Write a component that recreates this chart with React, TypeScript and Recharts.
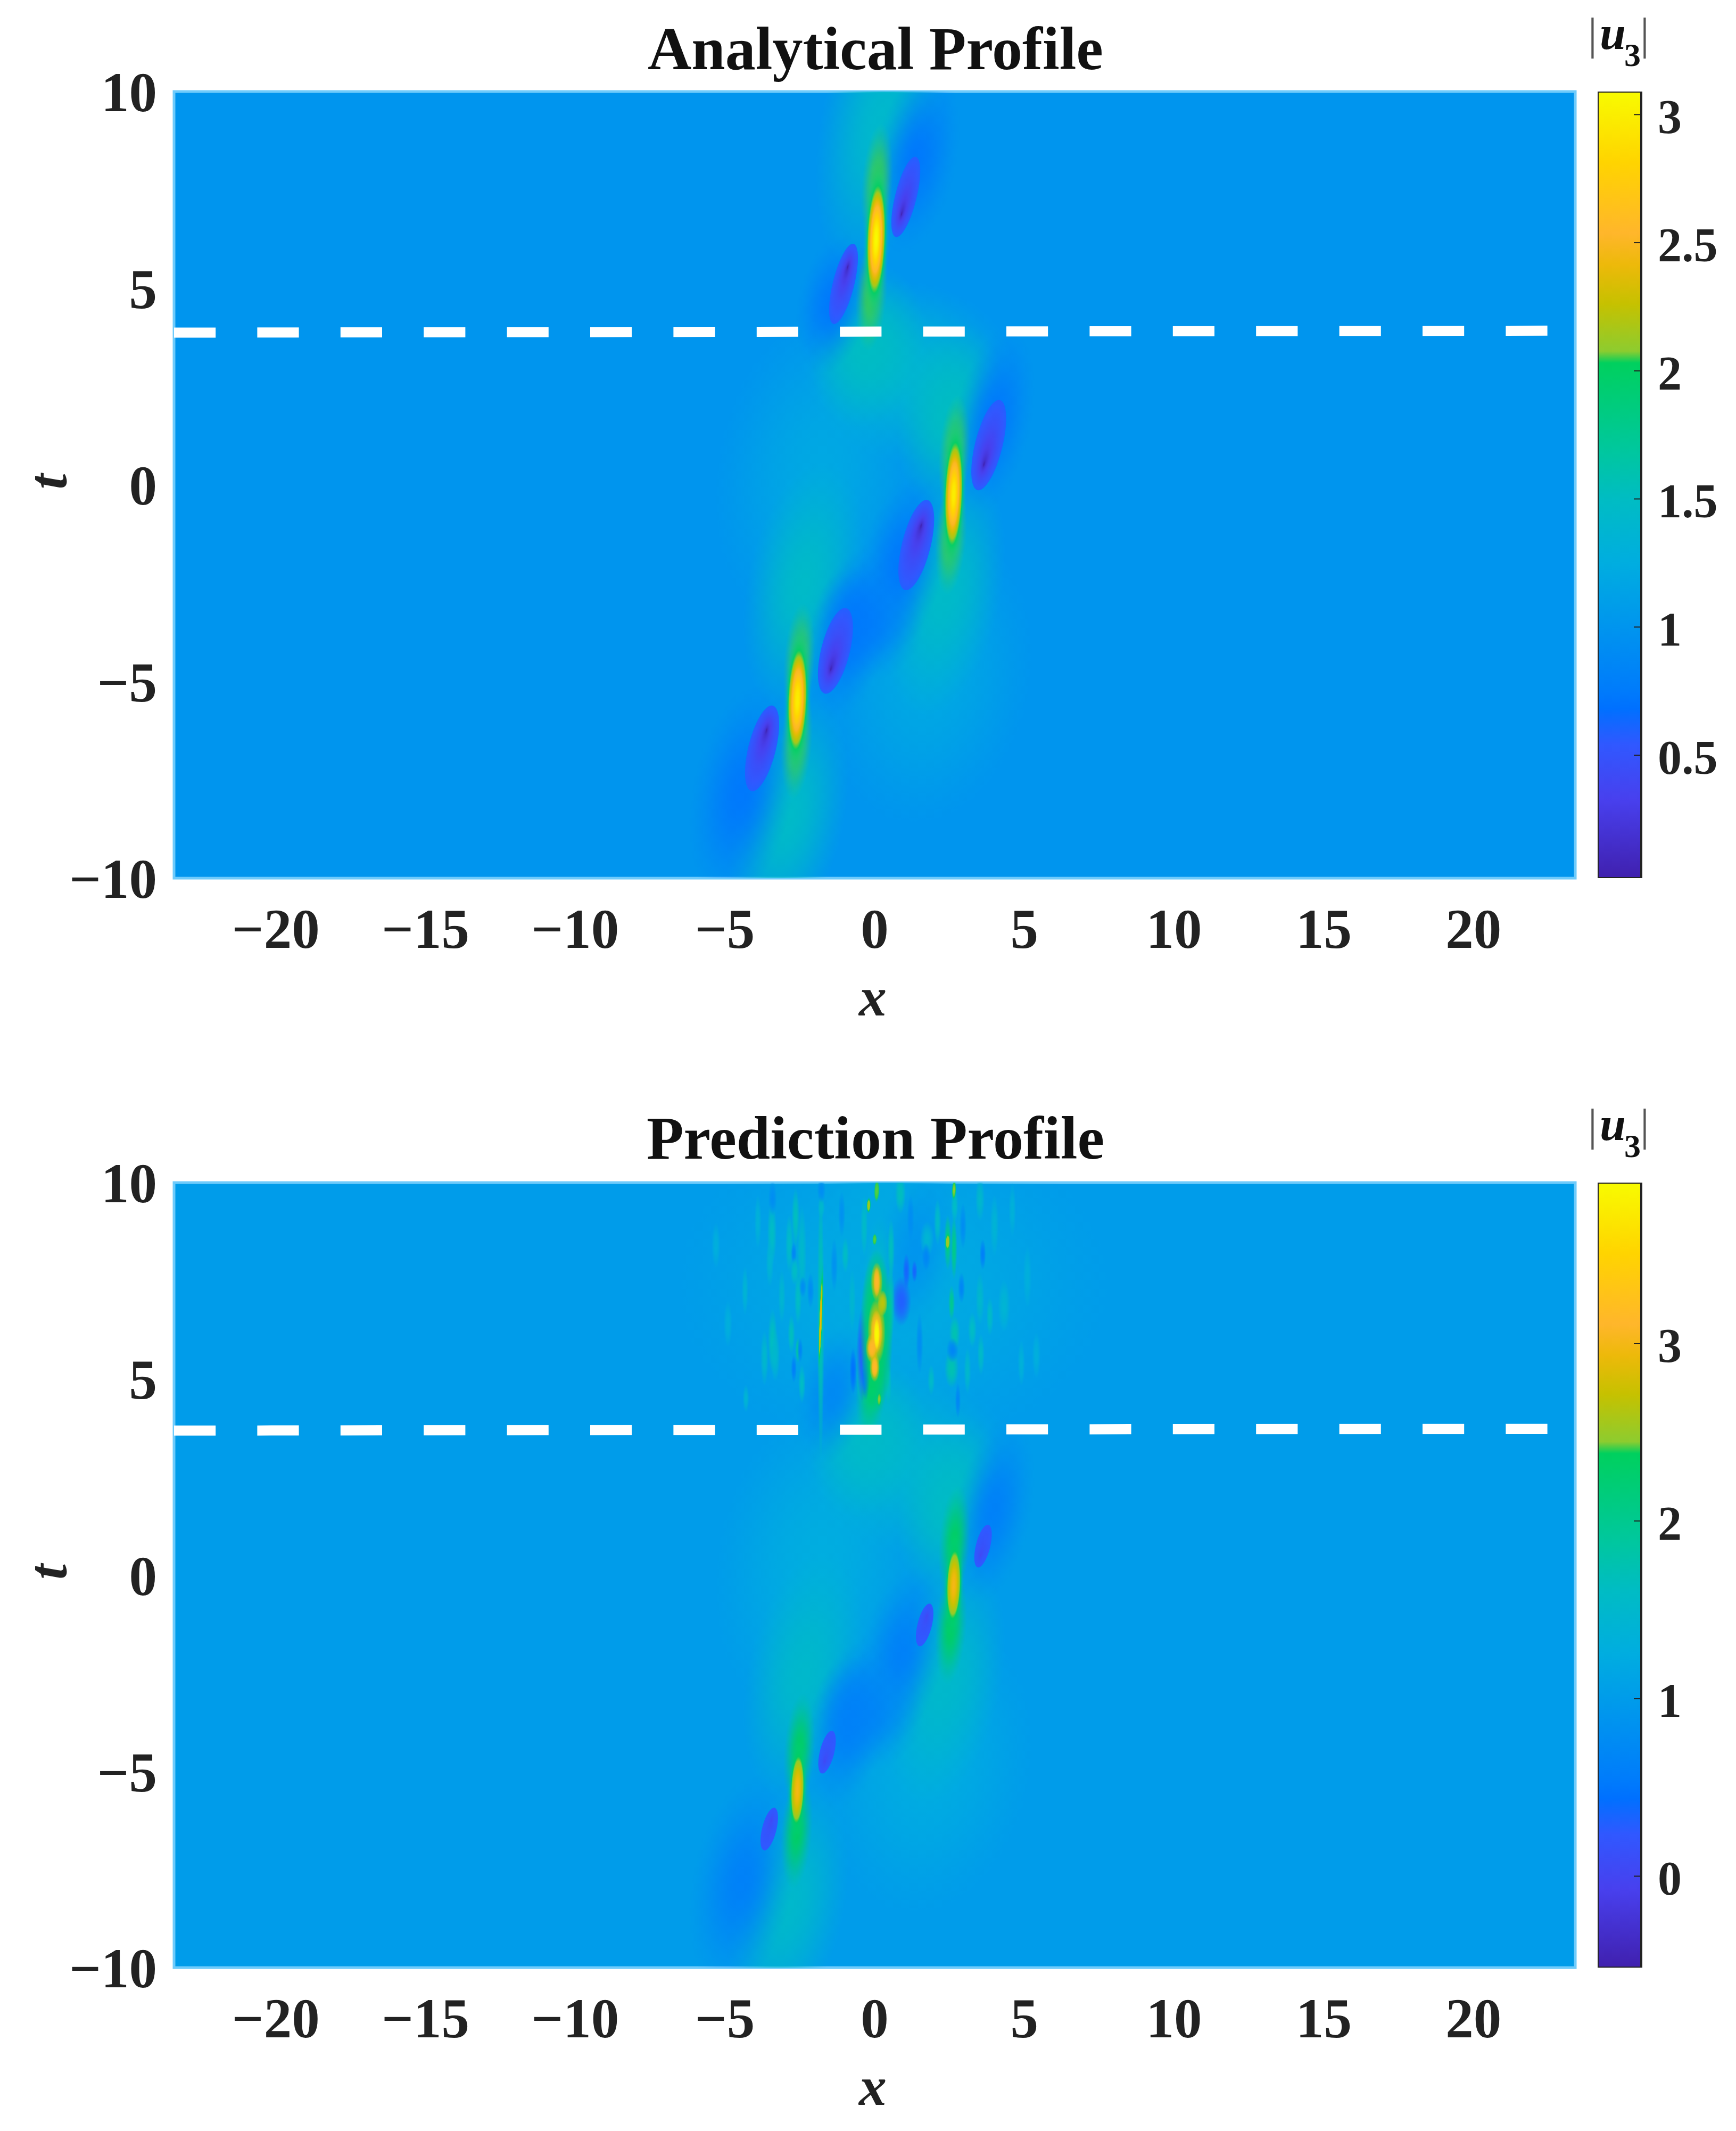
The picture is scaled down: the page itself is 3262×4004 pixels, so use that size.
import { Bar, BarChart, CartesianGrid, ReferenceArea, Scatter, ScatterChart, XAxis, YAxis } from "recharts";

const xTicks = [-20, -15, -10, -5, 0, 5, 10, 15, 20];
const tTicks = [-10, -5, 0, 5, 10];
const barTicks1 = [0.5, 1, 1.5, 2, 2.5, 3];
const barTicks2 = [0, 1, 2, 3];
const barDomain1 = [0.02, 3.09];
const barDomain2 = [-0.515, 3.905];
const XMAX = 23.4;

// colour scale (0 = top of bar)
const cmapPos = [0, 0.09, 0.18, 0.22, 0.27, 0.33, 0.345, 0.45, 0.52, 0.6, 0.68, 0.76, 0.785, 0.83, 0.9, 1];
const cmapColor = ["#f8fb00", "#ffd400", "#ffb62b", "#edb90a", "#c6c100", "#8dcc2f", "#00d05e", "#00c89a", "#00bcc4", "#00ade0", "#0095ee", "#007cfb", "#0070ff", "#3058ff", "#4840ee", "#4020ae"];

// dashed slice line
const dashX = [-23.4, 22.47];
const dashT1 = [3.87, 3.92];
const dashT2 = [3.68, 3.73];

// broad ridges and troughs of the field, shared geometry for both panels
const ridgeX = [-1.84, 1.8, -2.9, -2.37, 1.18, 0.2, -0.24, 2.51, 2.34];
const ridgeT = [0.42, -4.86, -8.38, -2.56, 2.85, 9.2, 3.53, 1.77, -2.69];
const ridgeSpreadX = [3.4, 3.4, 1.9, 1.9, 3.6, 2.0, 1.9, 1.7, 1.9];
const ridgeSpreadT = [4.2, 3.8, 3.2, 3.2, 2.3, 3.8, 2.1, 2.4, 3.2];
const ridgeValue1 = [1.2, 1.2, 1.46, 1.46, 1.36, 1.42, 1.5, 1.5, 1.46];
const ridgeValue2 = [1.25, 1.24, 1.52, 1.52, 1.42, 1.18, 1.56, 1.58, 1.52];

const troughX = [1.36, -1.39, 3.95, 0.91, -0.24, -0.86, -4.41];
const troughT = [8.27, 4.6, 1.64, -2.02, -3.5, -3.78, -7.83];
const troughSpreadX = [1.4, 1.2, 1.3, 1.4, 1.9, 1.3, 1.7];
const troughSpreadT = [2.4, 1.8, 2.4, 2.3, 1.5, 2.2, 2.8];
const troughValue1 = [0.74, 0.74, 0.74, 0.74, 0.8, 0.74, 0.74];
const troughValue2 = [0.9, 0.75, 0.62, 0.62, 0.7, 0.62, 0.62];

const tailX = [0.08, -0.1, 2.66, 2.55, -2.52, -2.6];
const tailT = [7.6, 4.9, 0.8, -1.3, -4.5, -6.5];
const tailSpreadX = [0.52, 0.52, 0.52, 0.52, 0.52, 0.52];
const tailSpreadT = [1.6, 1.5, 1.5, 1.5, 1.5, 1.5];
const tailValue1 = [2.05, 2.05, 2.05, 2.05, 2.05, 2.05];
const tailValue2 = [1.5, 2.3, 2.35, 2.35, 2.35, 2.35];

// analytical panel
const peakX1 = [0.05, 2.64, -2.58];
const peakT1 = [6.24, -0.23, -5.47];
const peakV1 = [3.09, 3.0, 3.0];
const peakSpreadX1 = [0.28, 0.27, 0.29];
const peakSpreadT1 = [1.29, 1.23, 1.19];
const dipX1 = [1.04, -1.04, 3.81, 1.39, -1.31, -3.76];
const dipT1 = [7.32, 5.11, 1.01, -1.53, -4.22, -6.7];
const dipV1 = [0.03, 0.03, 0.03, 0.03, 0.03, 0.03];
const dipSpreadX1 = [0.36, 0.36, 0.46, 0.48, 0.48, 0.46];
const dipSpreadT1 = [1.05, 1.05, 1.18, 1.18, 1.12, 1.12];
const dipCore1 = [-1, 1, -1, 1, -1, 1];

// prediction panel: two clean breathers, thin spikes above the line
const peakX2 = [2.64, -2.58, -1.8, 2.44, 0.07, -0.2, 0.0, 0.15, 2.65];
const peakT2 = [-0.25, -5.47, 6.55, 8.49, 9.79, 9.42, 8.55, 4.48, 9.81];
const peakV2 = [3.0, 3.0, 2.95, 2.55, 2.42, 2.55, 2.42, 2.45, 2.45];
const peakSpreadX2 = [0.21, 0.2, 0.04, 0.06, 0.06, 0.05, 0.05, 0.05, 0.05];
const peakSpreadT2 = [0.81, 0.8, 0.93, 0.16, 0.19, 0.136, 0.1, 0.124, 0.17];
const dipX2 = [3.62, 1.67, -1.59, -3.52];
const dipT2 = [0.74, -1.27, -4.51, -6.47];
const dipV2 = [0.02, 0.02, 0.02, 0.02];
const dipSpreadX2 = [0.24, 0.24, 0.24, 0.24];
const dipSpreadT2 = [0.56, 0.56, 0.56, 0.56];
const dipCore2 = [-1, 1, -1, 1];

// the broken-up peak at x = 0, stacked from low level to high level
const clusterX = [0.06, 0.07, 0.26, 0.06, -0.09, 0.0, 0.07, 0.06, -0.09, 0.0, 0.07];
const clusterT = [6.2, 7.47, 6.93, 6.2, 5.78, 5.3, 7.47, 6.2, 5.78, 5.3, 6.14];
const clusterV = [2.3, 2.7, 2.65, 2.75, 2.9, 2.85, 3.1, 3.2, 3.1, 3.15, 3.9];
const clusterSpreadX = [0.55, 0.2, 0.17, 0.3, 0.21, 0.17, 0.11, 0.2, 0.14, 0.11, 0.1];
const clusterSpreadT = [2.1, 0.5, 0.33, 0.85, 0.38, 0.38, 0.38, 0.55, 0.25, 0.27, 0.4];

// streaks of the prediction error, all above the dashed line
const streakX = [-1.8, -3.43, -2.64, -2.85, -2.43, -2.7, -2.7, -2.56, -3.41, -2.78, -2.56, -2.49, -2.43, -4.33, -4.3, -3.68, -3.32, -3.5, -1.78, -3.41, -1.78, -0.98, -2.14, -2.4, -2.67, 2.67, 2.44, 2.65, 2.57, 2.67, 2.57, 0.86, 2.6, 3.61, 3.52, 1.75, 3.85, 4.32, 3.26, 3.52, 3.55, 1.89, 1.06, 1.33, 0.89, 1.72, 2.9, 2.78, 0.53, -0.5, -0.35, 0.45, 0.55, -0.42, -0.72, -0.3, -4.9, 5.1, 5.4, -5.3, -1.1, -1.35, -0.75, 1.2, 1.5, 2.1, 2.95, 3.1, 4.0, 4.6, 4.9, -3.9, -3.1];
const streakT = [6.48, 8.72, 9.12, 8.44, 8.2, 8.2, 5.26, 7.04, 5.98, 6.14, 5.73, 5.73, 4.87, 7.25, 4.5, 5.53, 5.6, 7.97, 9.37, 9.6, 9.8, 8.15, 7.25, 7.34, 7.74, 9.42, 8.47, 8.33, 6.93, 6.16, 5.26, 9.72, 5.73, 8.17, 9.58, 8.56, 6.59, 6.86, 6.25, 7.04, 5.62, 4.97, 7.74, 7.74, 6.98, 8.11, 7.32, 4.45, 6.9, 5.2, 8.9, 4.9, 8.3, 5.6, 5.2, 5.15, 6.4, 7.6, 5.6, 8.4, 9.2, 7.9, 7.0, 9.1, 5.9, 9.0, 8.9, 5.2, 8.9, 9.3, 5.4, 9.0, 7.1];
const streakV = [1.75, 1.6, 1.65, 1.55, 1.5, 0.7, 0.6, 1.6, 1.65, 1.65, 1.85, 0.7, 1.6, 1.42, 1.42, 1.5, 1.5, 1.42, 1.5, 0.8, 0.8, 1.6, 0.8, 0.8, 1.6, 1.6, 2.05, 2.05, 2.0, 1.75, 1.75, 1.65, 0.7, 0.6, 1.5, 1.42, 1.55, 1.42, 1.6, 1.5, 1.55, 1.55, 0.35, 0.35, 0.3, 0.7, 0.7, 0.7, 1.75, 1.6, 1.55, 1.65, 1.65, 0.3, 0.45, 0.45, 1.3, 1.3, 1.3, 1.3, 0.85, 0.85, 1.45, 0.8, 0.8, 1.55, 0.8, 1.5, 1.4, 1.35, 1.35, 1.35, 1.45];
const streakLen = [1.81, 0.43, 0.38, 0.38, 0.63, 0.14, 0.18, 0.34, 0.41, 0.25, 0.16, 0.16, 0.25, 0.32, 0.18, 0.36, 0.34, 0.32, 0.14, 0.23, 0.16, 0.23, 0.23, 0.14, 0.18, 0.23, 0.36, 0.41, 0.23, 0.23, 0.25, 0.26, 0.16, 0.2, 0.29, 0.23, 0.25, 0.34, 0.23, 0.34, 0.27, 0.2, 0.23, 0.14, 0.32, 0.18, 0.2, 0.23, 0.5, 0.4, 0.4, 0.3, 0.4, 0.6, 0.3, 0.35, 0.3, 0.4, 0.3, 0.3, 0.3, 0.35, 0.4, 0.3, 0.4, 0.3, 0.3, 0.3, 0.4, 0.35, 0.3, 0.35, 0.35];
const streakWide = [0.1, 0.13, 0.11, 0.11, 0.13, 0.08, 0.08, 0.1, 0.13, 0.1, 0.08, 0.08, 0.1, 0.09, 0.09, 0.11, 0.13, 0.11, 0.1, 0.12, 0.12, 0.1, 0.1, 0.1, 0.12, 0.1, 0.1, 0.09, 0.09, 0.15, 0.2, 0.15, 0.17, 0.09, 0.13, 0.2, 0.1, 0.17, 0.12, 0.12, 0.1, 0.1, 0.1, 0.08, 0.28, 0.12, 0.1, 0.08, 0.12, 0.1, 0.1, 0.1, 0.1, 0.16, 0.1, 0.12, 0.12, 0.12, 0.12, 0.12, 0.1, 0.1, 0.1, 0.1, 0.1, 0.1, 0.1, 0.1, 0.12, 0.1, 0.1, 0.1, 0.1];

const SERIF = "'Liberation Serif', serif";
const INK = "#222";
const PEAK_TILT = 2;
const DIP_TILT = 14;
const BAND_TILT = 11;
const PLOT_LEFT = 327;
const PLOT_RIGHT = 2960;
const PLOT_TOP = 172;
const CHART_W = 3262;
const CHART_H = 1960;
const AXIS_ROOM = 220;

function hexToRgb(hex: string) {
  return [1, 3, 5].map((i) => parseInt(hex.slice(i, i + 2), 16));
}

function colorAt(pos: number) {
  const p = Math.min(1, Math.max(0, pos));
  let i = 0;
  while (i < cmapPos.length - 2 && p > cmapPos[i + 1]) i++;
  const f = (p - cmapPos[i]) / (cmapPos[i + 1] - cmapPos[i]);
  const a = hexToRgb(cmapColor[i]);
  const b = hexToRgb(cmapColor[i + 1]);
  return `rgb(${a.map((c, k) => Math.round(c + (b[k] - c) * f)).join(",")})`;
}

type Blob = { x: number; t: number; v: number; sx: number; st: number; core?: number };

function blobs(xs: number[], ts: number[], vs: number[], sxs: number[], sts: number[], cores?: number[]): Blob[] {
  return xs.map((x, i) => ({ x, t: ts[i], v: vs[i], sx: sxs[i], st: sts[i], core: cores ? cores[i] : 0 }));
}

const steps = (n: number) => Array.from({ length: n + 1 }, (_, i) => i / n);

function Panel({ top, plotBottom, title, titleY, dashT, domain, ridgeValue, troughValue, tailValue, peaks, dips, edgeValue, barTicks, withStreaks, id }: any) {
  const plotW = PLOT_RIGHT - PLOT_LEFT;
  const plotH = plotBottom - PLOT_TOP;
  const pxX = plotW / (2 * XMAX);
  const pxT = plotH / 20;
  const toPos = (v: number) => (domain[1] - v) / (domain[1] - domain[0]);
  const clip = `url(#clip-${id})`;

  const softShape = (prefix: string, sharp: number, tilt: number) => (props: any) => {
    const { cx, cy, payload, index } = props;
    const gid = `${prefix}-${id}-${index}`;
    const color = colorAt(toPos(payload.v));
    return (
      <g clipPath={clip}>
        <radialGradient id={gid}>
          {steps(10).map((r) => (
            <stop key={r} offset={r} stopColor={color} stopOpacity={Math.exp(-sharp * r * r) * (1 - r * r * r * r)} />
          ))}
        </radialGradient>
        <ellipse cx={cx} cy={cy} rx={payload.sx * pxX} ry={payload.st * pxT} fill={`url(#${gid})`} transform={`rotate(${tilt} ${cx} ${cy})`} />
      </g>
    );
  };

  const peakShape = (props: any) => {
    const { cx, cy, payload, index } = props;
    const gid = `peak-${id}-${index}`;
    const R = 1.7;
    const basePos = 0.55;
    const peakPos = toPos(payload.v);
    const k = Math.log((basePos - peakPos) / (basePos - 0.34));
    return (
      <g clipPath={clip}>
        <radialGradient id={gid}>
          {steps(24).map((o) => {
            const r = o * R;
            const pos = basePos + (peakPos - basePos) * Math.exp(-k * r * r);
            const alpha = r < 1.02 ? 1 : Math.max(0, 1 - (r - 1.02) / (R - 1.02)) ** 2;
            return <stop key={o} offset={o} stopColor={colorAt(pos)} stopOpacity={alpha} />;
          })}
        </radialGradient>
        <ellipse cx={cx} cy={cy} rx={payload.sx * pxX * R} ry={payload.st * pxT * R} fill={`url(#${gid})`} transform={`rotate(${PEAK_TILT} ${cx} ${cy})`} />
      </g>
    );
  };

  const dipShape = (props: any) => {
    const { cx, cy, payload, index } = props;
    const gid = `dip-${id}-${index}`;
    return (
      <g clipPath={clip}>
        <radialGradient id={gid} cx={0.5} cy={0.5} r={0.5} fx={0.5} fy={0.5 - 0.22 * payload.core}>
          {steps(12).map((o) => (
            <stop key={o} offset={o} stopColor={colorAt(toPos(payload.v + (edgeValue - payload.v) * o ** 0.5))} />
          ))}
        </radialGradient>
        <ellipse cx={cx} cy={cy} rx={payload.sx * pxX} ry={payload.st * pxT} fill={`url(#${gid})`} transform={`rotate(${DIP_TILT} ${cx} ${cy})`} />
      </g>
    );
  };

  const ridges = blobs(ridgeX, ridgeT, ridgeValue, ridgeSpreadX, ridgeSpreadT);
  const troughs = blobs(troughX, troughT, troughValue, troughSpreadX, troughSpreadT);
  const tails = blobs(tailX, tailT, tailValue, tailSpreadX, tailSpreadT);
  const streaks = withStreaks ? blobs(streakX, streakT, streakV, streakWide.map((w) => w * 1.2), streakLen.map((l) => l * 2)) : [];
  const cluster = withStreaks ? blobs(clusterX, clusterT, clusterV, clusterSpreadX, clusterSpreadT) : [];
  const noiseEnvelope = withStreaks ? [{ x: 0.6, t: 7.4, v: 1.22, sx: 7.2, st: 4.2 }] : [];
  const dashPoints = dashX.map((x, i) => ({ x, t: dashT[i] }));
  const minus = (v: number) => String(v).replace("-", "\u2212");
  const tickStyle = { fontFamily: SERIF, fontWeight: 700, fontSize: 105, fill: INK };

  const barPlot = { w: 82, left: 3002 };

  return (
    <div style={{ position: "absolute", left: 0, top, width: CHART_W, height: CHART_H }}>
      <div style={{ position: "absolute", left: 0, top: 0 }}>
        <ScatterChart
          width={CHART_W}
          height={CHART_H}
          margin={{ left: PLOT_LEFT - AXIS_ROOM, right: CHART_W - PLOT_RIGHT, top: PLOT_TOP, bottom: CHART_H - plotBottom - AXIS_ROOM }}
        >
          <defs>
            <clipPath id={`clip-${id}`}>
              <rect x={PLOT_LEFT} y={PLOT_TOP} width={plotW} height={plotH} />
            </clipPath>
          </defs>
          <CartesianGrid horizontal={false} vertical={false} fill={colorAt(toPos(1.0))} stroke="none" />
          <XAxis
            dataKey="x"
            type="number"
            domain={[-XMAX, XMAX]}
            ticks={xTicks}
            height={AXIS_ROOM}
            axisLine={false}
            tickLine={false}
            tickSize={0}
            tickMargin={56}
            interval={0}
            tick={tickStyle}
            tickFormatter={minus}
          />
          <YAxis
            dataKey="t"
            type="number"
            domain={[-10, 10]}
            ticks={tTicks}
            width={AXIS_ROOM}
            axisLine={false}
            tickLine={false}
            tickSize={0}
            tickMargin={32}
            interval={0}
            tick={tickStyle}
            tickFormatter={minus}
          />
          <ReferenceArea x1={-XMAX} x2={XMAX} y1={-10} y2={10} fill="none" stroke="#6fcbfb" strokeWidth={5} />
          {withStreaks && <Scatter data={noiseEnvelope} shape={softShape("noise", 1.6, 0)} isAnimationActive={false} />}
          <Scatter data={ridges} shape={softShape("ridge", 1.5, BAND_TILT)} isAnimationActive={false} />
          <Scatter data={troughs} shape={softShape("trough", 2.0, BAND_TILT)} isAnimationActive={false} />
          <Scatter data={tails} shape={softShape("tail", 1.8, 4)} isAnimationActive={false} />
          {withStreaks && <Scatter data={streaks} shape={softShape("streak", 1.0, 0)} isAnimationActive={false} />}
          {withStreaks && <Scatter data={cluster} shape={softShape("cluster", 0.3, 0)} isAnimationActive={false} />}
          <Scatter data={peaks} shape={peakShape} isAnimationActive={false} />
          <Scatter data={dips} shape={dipShape} isAnimationActive={false} />
          <Scatter
            data={dashPoints}
            shape={() => <g />}
            line={{ stroke: "#fff", strokeWidth: 19, strokeDasharray: "78.2 78.2" }}
            isAnimationActive={false}
          />
          <text x={1645} y={titleY} textAnchor="middle" fontFamily={SERIF} fontWeight={700} fontSize={114} fill="#111">
            {title}
          </text>
          <text x={1640} y={plotBottom + 258} textAnchor="middle" fontFamily={SERIF} fontWeight={700} fontStyle="italic" fontSize={104} fill={INK}>
            x
          </text>
          <text
            x={0}
            y={0}
            transform={`translate(124 ${PLOT_TOP + plotH / 2 - 6}) rotate(-90)`}
            textAnchor="middle"
            fontFamily={SERIF}
            fontWeight={700}
            fontStyle="italic"
            fontSize={104}
            fill={INK}
          >
            t
          </text>
          <text x={2984} y={92} fontFamily={SERIF} fontSize={84} fill="#555">|</text>
          <text x={3006} y={92} fontFamily={SERIF} fontWeight={700} fontStyle="italic" fontSize={88} fill="#111">u</text>
          <text x={3052} y={124} fontFamily={SERIF} fontWeight={700} fontSize={62} fill="#111">3</text>
          <text x={3082} y={92} fontFamily={SERIF} fontSize={84} fill="#555">|</text>
        </ScatterChart>
      </div>
      <div style={{ position: "absolute", left: barPlot.left, top: PLOT_TOP }}>
        <BarChart
          width={CHART_W - barPlot.left}
          height={plotH}
          data={[{ name: "bar", range: domain }]}
          margin={{ left: 0, top: 0, bottom: 0, right: 0 }}
          barCategoryGap={0}
        >
          <defs>
            <linearGradient id={`bar-${id}`} x1="0" y1="0" x2="0" y2="1">
              {cmapPos.map((p, i) => (
                <stop key={p} offset={p} stopColor={cmapColor[i]} />
              ))}
            </linearGradient>
          </defs>
          <XAxis dataKey="name" hide />
          <YAxis
            orientation="right"
            type="number"
            domain={domain}
            ticks={barTicks}
            width={CHART_W - barPlot.left - barPlot.w}
            axisLine={false}
            tickLine={false}
            tickSize={0}
            interval={0}
            tick={({ x, y, payload }: any) => (
              <g>
                <line x1={x - 16} x2={x - 2} y1={y} y2={y} stroke={INK} strokeWidth={2} />
                <text x={x + 29} y={y + 35} fontFamily={SERIF} fontWeight={700} fontSize={90} fill={INK}>
                  {payload.value}
                </text>
              </g>
            )}
          />
          <Bar dataKey="range" fill={`url(#bar-${id})`} stroke={INK} strokeWidth={4} isAnimationActive={false} />
        </BarChart>
      </div>
    </div>
  );
}

export default function App() {
  return (
    <div style={{ position: "absolute", left: 0, top: 0, width: 3262, height: 4004, background: "#fff" }}>
      <Panel
        id="a"
        top={0}
        plotBottom={1650}
        title="Analytical Profile"
        titleY={130}
        dashT={dashT1}
        domain={barDomain1}
        ridgeValue={ridgeValue1}
        troughValue={troughValue1}
        tailValue={tailValue1}
        peaks={blobs(peakX1, peakT1, peakV1, peakSpreadX1, peakSpreadT1)}
        dips={blobs(dipX1, dipT1, dipV1, dipSpreadX1, dipSpreadT1, dipCore1)}
        edgeValue={0.58}
        barTicks={barTicks1}
        withStreaks={false}
      />
      <Panel
        id="b"
        top={2050}
        plotBottom={1647}
        title="Prediction Profile"
        titleY={127}
        dashT={dashT2}
        domain={barDomain2}
        ridgeValue={ridgeValue2}
        troughValue={troughValue2}
        tailValue={tailValue2}
        peaks={blobs(peakX2, peakT2, peakV2, peakSpreadX2, peakSpreadT2)}
        dips={blobs(dipX2, dipT2, dipV2, dipSpreadX2, dipSpreadT2, dipCore2)}
        edgeValue={0.25}
        barTicks={barTicks2}
        withStreaks
      />
    </div>
  );
}
